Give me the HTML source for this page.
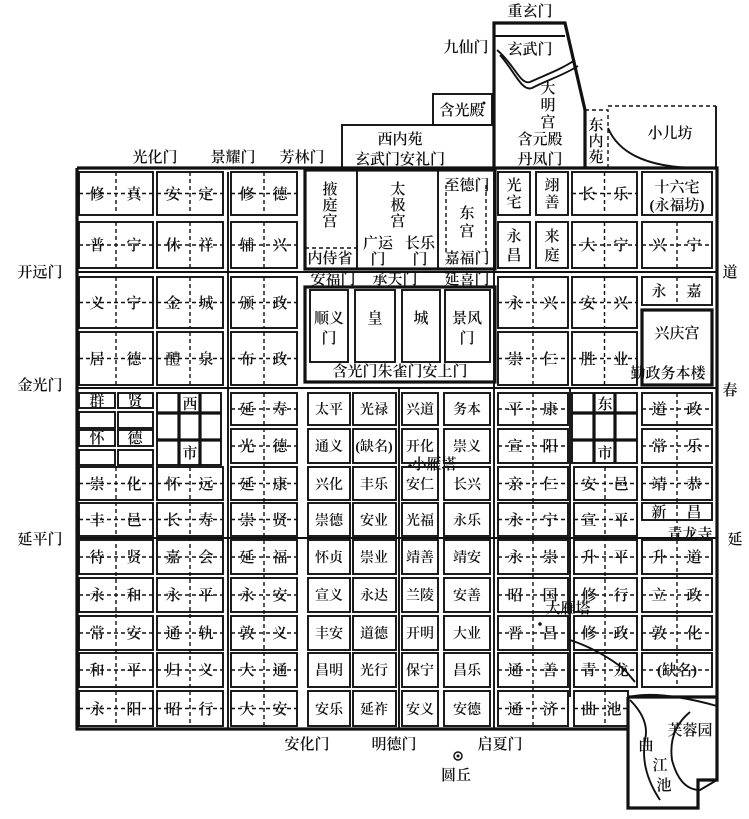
<!DOCTYPE html>
<html><head><meta charset="utf-8"><style>
html,body{margin:0;padding:0;background:#fff;}
svg{display:block;}
text{font-family:"Liberation Serif","Noto Serif CJK SC",serif;fill:#111;font-size:15px;font-weight:600;text-anchor:middle;}
.w{fill:none;stroke:#111;stroke-width:1.9;}
.t{fill:none;stroke:#111;stroke-width:3.2;}
.d{fill:none;stroke:#111;stroke-width:1.4;stroke-dasharray:4 3;}
.s text,text.s{font-size:14px;}
</style></head><body>
<svg width="749" height="819" viewBox="0 0 749 819" xmlns="http://www.w3.org/2000/svg">
<path class="t" d="M77 168H717V697M77 168V729H628M628 697V808H698V780H717V697H628"/>
<path class="w" d="M228 172V729M399 388V729M494 172V729M570 388V697M77 272H717M77 388H717M77 538H717"/>
<path class="t" d="M494 168V23H565L585 110V168"/>
<path class="w" d="M494 36H565"/>
<path class="w" d="M497 50C515 65 520 85 530 82C545 75 560 70 575 60M500 55C515 72 522 92 532 88C547 80 562 76 578 66"/>
<rect class="w" x="342" y="125" width="152" height="43"/>
<rect class="w" x="433" y="94" width="59" height="31"/>
<path class="d" d="M585 110H608V168M585 110V168"/>
<path class="d" d="M608 106H716"/>
<path class="w" d="M716 106V168M608 128Q625 168 700 168"/>
<rect class="t" x="305" y="170" width="190" height="99"/>
<path class="w" d="M357 170V269M438 170V269"/>
<path class="d" d="M305 248H357M446 185V255M486 185V255"/>
<rect class="t" x="305" y="287" width="190" height="95"/>
<rect class="w" x="310" y="290" width="38" height="72"/>
<rect class="w" x="355" y="290" width="40" height="72"/>
<rect class="w" x="402" y="290" width="38" height="72"/>
<rect class="w" x="445" y="290" width="45" height="72"/>
<g class="w"><rect x="79" y="393" width="36" height="15"/><rect x="118" y="393" width="35" height="15"/><rect x="79" y="412" width="36" height="16"/><rect x="118" y="412" width="35" height="16"/><rect x="79" y="430" width="36" height="16"/><rect x="118" y="430" width="35" height="16"/><rect x="79" y="450" width="36" height="15"/><rect x="118" y="450" width="35" height="15"/></g>
<rect class="w" x="157" y="393" width="64" height="72"/>
<path class="t" d="M179 393V465M200 393V465M157 413H221M157 440H221"/>
<rect class="w" x="572" y="393" width="65" height="70"/>
<path class="t" d="M594 393V463M615 393V463M572 413H637M572 440H637"/>
<g class="w">
<rect x="79" y="172" width="74" height="43"/><rect x="157" y="172" width="66" height="43"/><rect x="231" y="172" width="66" height="43"/>
<rect x="79" y="222" width="74" height="46"/><rect x="157" y="222" width="66" height="46"/><rect x="231" y="222" width="66" height="46"/>
<rect x="79" y="277" width="74" height="51"/><rect x="157" y="277" width="66" height="51"/><rect x="231" y="277" width="66" height="51"/>
<rect x="79" y="332" width="74" height="53"/><rect x="157" y="332" width="66" height="53"/><rect x="231" y="332" width="66" height="53"/>
<rect x="498" y="172" width="32" height="43"/><rect x="536" y="172" width="32" height="43"/><rect x="572" y="172" width="65" height="43"/><rect x="642" y="172" width="70" height="43"/>
<rect x="498" y="222" width="32" height="46"/><rect x="536" y="222" width="32" height="46"/><rect x="572" y="222" width="65" height="46"/><rect x="642" y="222" width="70" height="46"/>
<rect x="498" y="277" width="70" height="51"/><rect x="572" y="277" width="65" height="51"/><rect x="642" y="277" width="70" height="28"/>
<rect x="498" y="332" width="70" height="53"/><rect x="572" y="332" width="65" height="53"/>
</g>
<rect class="t" x="642" y="310" width="70" height="75"/>
<path class="d" d="M116 172V215M79 193.5H153M190 172V215M157 193.5H223M264 172V215M231 193.5H297
M116 222V268M79 245H153M190 222V268M157 245H223M264 222V268M231 245H297
M116 277V328M79 302.5H153M190 277V328M157 302.5H223M264 277V328M231 302.5H297
M116 332V385M79 358.5H153M190 332V385M157 358.5H223M264 332V385M231 358.5H297
M604.5 172V215M572 193.5H637M677 200V215M604.5 222V268M572 245H637M677 222V268M642 245H712
M533 277V328M498 302.5H568M604.5 277V328M572 302.5H637M677 277V305
M533 332V385M498 358.5H568M604.5 332V385M572 358.5H637"/>
<g class="w">
<rect x="231" y="393" width="66" height="32"/><rect x="231" y="429" width="66" height="34"/><rect x="231" y="467" width="66" height="33"/><rect x="231" y="503" width="66" height="33"/><rect x="231" y="540" width="66" height="34"/><rect x="231" y="578" width="66" height="34"/><rect x="231" y="616" width="66" height="34"/><rect x="231" y="653" width="66" height="34"/><rect x="231" y="691" width="66" height="35"/>
<rect x="79" y="467" width="74" height="33"/><rect x="79" y="503" width="74" height="33"/><rect x="79" y="540" width="74" height="34"/><rect x="79" y="578" width="74" height="34"/><rect x="79" y="616" width="74" height="34"/><rect x="79" y="653" width="74" height="34"/><rect x="79" y="691" width="74" height="35"/>
<rect x="157" y="467" width="66" height="33"/><rect x="157" y="503" width="66" height="33"/><rect x="157" y="540" width="66" height="34"/><rect x="157" y="578" width="66" height="34"/><rect x="157" y="616" width="66" height="34"/><rect x="157" y="653" width="66" height="34"/><rect x="157" y="691" width="66" height="35"/>
<rect x="308" y="393" width="42" height="32"/><rect x="308" y="429" width="42" height="34"/><rect x="308" y="467" width="42" height="33"/><rect x="308" y="503" width="42" height="33"/><rect x="308" y="540" width="42" height="34"/><rect x="308" y="578" width="42" height="34"/><rect x="308" y="616" width="42" height="34"/><rect x="308" y="653" width="42" height="34"/><rect x="308" y="691" width="42" height="35"/>
<rect x="353" y="393" width="43" height="32"/><rect x="353" y="429" width="43" height="34"/><rect x="353" y="467" width="43" height="33"/><rect x="353" y="503" width="43" height="33"/><rect x="353" y="540" width="43" height="34"/><rect x="353" y="578" width="43" height="34"/><rect x="353" y="616" width="43" height="34"/><rect x="353" y="653" width="43" height="34"/><rect x="353" y="691" width="43" height="35"/>
<rect x="402" y="393" width="36" height="32"/><rect x="402" y="429" width="36" height="34"/><rect x="402" y="467" width="36" height="33"/><rect x="402" y="503" width="36" height="33"/><rect x="402" y="540" width="36" height="34"/><rect x="402" y="578" width="36" height="34"/><rect x="402" y="616" width="36" height="34"/><rect x="402" y="653" width="36" height="34"/><rect x="402" y="691" width="36" height="35"/>
<rect x="444" y="393" width="46" height="32"/><rect x="444" y="429" width="46" height="34"/><rect x="444" y="467" width="46" height="33"/><rect x="444" y="503" width="46" height="33"/><rect x="444" y="540" width="46" height="34"/><rect x="444" y="578" width="46" height="34"/><rect x="444" y="616" width="46" height="34"/><rect x="444" y="653" width="46" height="34"/><rect x="444" y="691" width="46" height="35"/>
<rect x="498" y="393" width="70" height="32"/><rect x="498" y="429" width="70" height="34"/><rect x="498" y="467" width="70" height="33"/><rect x="498" y="503" width="70" height="33"/><rect x="498" y="540" width="70" height="34"/><rect x="498" y="578" width="70" height="34"/><rect x="498" y="616" width="70" height="34"/><rect x="498" y="653" width="70" height="34"/><rect x="498" y="691" width="70" height="35"/>
<rect x="574" y="467" width="63" height="33"/><rect x="574" y="503" width="63" height="33"/><rect x="574" y="540" width="63" height="34"/><rect x="574" y="578" width="63" height="34"/><rect x="574" y="616" width="63" height="34"/><rect x="574" y="653" width="63" height="34"/><rect x="574" y="691" width="54" height="35"/>
<rect x="642" y="393" width="70" height="32"/><rect x="642" y="429" width="70" height="34"/><rect x="642" y="467" width="70" height="33"/><rect x="642" y="503" width="70" height="17"/><rect x="642" y="540" width="70" height="34"/><rect x="642" y="578" width="70" height="34"/><rect x="642" y="616" width="70" height="34"/><rect x="642" y="653" width="70" height="34"/>
</g>
<path class="d" d="M116 467V726M190 467V726M264 393V726M533 393V726M605 467V726M677 393V687
M79 483.5H153M157 483.5H223M231 483.5H297M79 519.5H153M157 519.5H223M231 519.5H297M79 557H153M157 557H223M231 557H297M79 595H153M157 595H223M231 595H297M79 633H153M157 633H223M231 633H297M79 670H153M157 670H223M231 670H297M79 708.5H153M157 708.5H223M231 708.5H297M231 409H297M231 446H297
M498 409H568M498 446H568M498 483.5H568M498 519.5H568M498 557H568M498 595H568M498 633H568M498 670H568M498 708.5H568
M574 483.5H637M574 519.5H637M574 557H637M574 595H637M574 633H637M574 670H637M574 708.5H628
M642 409H712M642 446H712M642 483.5H712M642 557H712M642 595H712M642 633H712M642 670H712"/>
<circle cx="458" cy="756" r="4" fill="none" stroke="#111" stroke-width="1.5"/><circle cx="458" cy="756" r="1.5" fill="#111"/>
<circle cx="410" cy="466" r="1.8" fill="#111"/><circle cx="540" cy="624" r="1.8" fill="#111"/><circle cx="484" cy="103" r="1.5" fill="#111"/>
<path class="w" d="M570 640Q600 650 625 670L635 682M628 697Q660 690 717 706M630 700Q650 720 645 740Q640 770 660 800M690 712Q668 730 672 760Q680 790 700 790L717 780"/>
<text x="530" y="16">重玄门</text>
<text x="466" y="52">九仙门</text><text x="530" y="54">玄武门</text>
<text x="548" y="93">大</text><text x="548" y="110">明</text><text x="548" y="127">宫</text>
<text x="462" y="115">含光殿</text>
<text x="400" y="144">西内苑</text><text x="400" y="164">玄武门安礼门</text>
<text x="540" y="144">含元殿</text><text x="540" y="164">丹凤门</text>
<text x="596" y="130">东</text><text x="596" y="146">内</text><text x="596" y="162">苑</text>
<text x="670" y="138">小儿坊</text>
<text x="155" y="162">光化门</text><text x="233" y="162">景耀门</text><text x="302" y="162">芳林门</text>
<text x="40" y="277">开远门</text><text x="40" y="390">金光门</text><text x="40" y="544">延平门</text>
<text x="307" y="749">安化门</text><text x="394" y="749">明德门</text><text x="500" y="749">启夏门</text><text x="456" y="780">圆丘</text>
<text x="730" y="277">道</text><text x="730" y="395">春</text><text x="735" y="544">延</text>
<text x="330" y="194">掖</text><text x="330" y="210">庭</text><text x="330" y="226">宫</text>
<text x="330" y="263">内侍省</text>
<text x="398" y="194">太</text><text x="398" y="210">极</text><text x="398" y="226">宫</text>
<text x="378" y="248">广运</text><text x="378" y="264">门</text><text x="420" y="248">长乐</text><text x="420" y="264">门</text>
<text x="467" y="190">至德门</text><text x="467" y="218">东</text><text x="467" y="236">宫</text><text x="467" y="263">嘉福门</text>
<text x="333" y="284">安福门</text><text x="395" y="284">承天门</text><text x="467" y="284">延喜门</text>
<text x="329" y="323">顺义</text><text x="329" y="343">门</text><text x="375" y="323">皇</text><text x="421" y="323">城</text>
<text x="467" y="323">景风</text><text x="467" y="343">门</text>
<text x="400" y="376">含光门朱雀门安上门</text>
<text x="97" y="199">修</text><text x="134" y="199">真</text><text x="173" y="199">安</text><text x="206" y="199">定</text><text x="247" y="199">修</text><text x="280" y="199">德</text>
<text x="97" y="250">普</text><text x="134" y="250">宁</text><text x="173" y="250">休</text><text x="206" y="250">祥</text><text x="247" y="250">辅</text><text x="280" y="250">兴</text>
<text x="97" y="308">义</text><text x="134" y="308">宁</text><text x="173" y="308">金</text><text x="206" y="308">城</text><text x="247" y="308">颁</text><text x="280" y="308">政</text>
<text x="97" y="364">居</text><text x="134" y="364">德</text><text x="173" y="364">醴</text><text x="206" y="364">泉</text><text x="247" y="364">布</text><text x="280" y="364">政</text>
<text x="514" y="190">光</text><text x="514" y="207">宅</text><text x="552" y="190">翊</text><text x="552" y="207">善</text>
<text x="588" y="199">长</text><text x="621" y="199">乐</text><text x="677" y="192">十六宅</text><text x="677" y="210">(永福坊)</text>
<text x="514" y="241">永</text><text x="514" y="260">昌</text><text x="552" y="241">来</text><text x="552" y="260">庭</text>
<text x="588" y="250">大</text><text x="621" y="250">宁</text><text x="659" y="250">兴</text><text x="694" y="250">宁</text>
<text x="515" y="308">永</text><text x="550" y="308">兴</text><text x="588" y="308">安</text><text x="621" y="308">兴</text><text x="659" y="296">永</text><text x="694" y="296">嘉</text>
<text x="515" y="364">崇</text><text x="550" y="364">仁</text><text x="588" y="364">胜</text><text x="621" y="364">业</text>
<text x="677" y="338">兴庆宫</text><text x="668" y="378">勤政务本楼</text>
<text x="97" y="406">群</text><text x="135" y="406">贤</text><text x="97" y="443">怀</text><text x="135" y="443">德</text>
<text x="190" y="409">西</text><text x="190" y="458">市</text>
<text x="605" y="409">东</text><text x="605" y="458">市</text>
<text x="97" y="489">崇</text><text x="134" y="489">化</text><text x="173" y="489">怀</text><text x="206" y="489">远</text><text x="247" y="414">延</text><text x="280" y="414">寿</text>
<text x="247" y="451">光</text><text x="280" y="451">德</text><text x="247" y="489">延</text><text x="280" y="489">康</text>
<text x="97" y="525">丰</text><text x="134" y="525">邑</text><text x="173" y="525">长</text><text x="206" y="525">寿</text><text x="247" y="525">崇</text><text x="280" y="525">贤</text>
<text x="97" y="562">待</text><text x="134" y="562">贤</text><text x="173" y="562">嘉</text><text x="206" y="562">会</text><text x="247" y="562">延</text><text x="280" y="562">福</text>
<text x="97" y="600">永</text><text x="134" y="600">和</text><text x="173" y="600">永</text><text x="206" y="600">平</text><text x="247" y="600">永</text><text x="280" y="600">安</text>
<text x="97" y="638">常</text><text x="134" y="638">安</text><text x="173" y="638">通</text><text x="206" y="638">轨</text><text x="247" y="638">敦</text><text x="280" y="638">义</text>
<text x="97" y="675">和</text><text x="134" y="675">平</text><text x="173" y="675">归</text><text x="206" y="675">义</text><text x="247" y="675">大</text><text x="280" y="675">通</text>
<text x="97" y="714">永</text><text x="134" y="714">阳</text><text x="173" y="714">昭</text><text x="206" y="714">行</text><text x="247" y="714">大</text><text x="280" y="714">安</text>
<g class="s">
<text x="329" y="414">太平</text><text x="374" y="414">光禄</text><text x="420" y="414">兴道</text><text x="467" y="414">务本</text>
<text x="329" y="451">通义</text><text x="374" y="451">(缺名)</text><text x="420" y="451">开化</text><text x="467" y="451">崇义</text>
<text x="329" y="489">兴化</text><text x="374" y="489">丰乐</text><text x="420" y="489">安仁</text><text x="467" y="489">长兴</text>
<text x="329" y="525">崇德</text><text x="374" y="525">安业</text><text x="420" y="525">光福</text><text x="467" y="525">永乐</text>
<text x="329" y="562">怀贞</text><text x="374" y="562">崇业</text><text x="420" y="562">靖善</text><text x="467" y="562">靖安</text>
<text x="329" y="600">宣义</text><text x="374" y="600">永达</text><text x="420" y="600">兰陵</text><text x="467" y="600">安善</text>
<text x="329" y="638">丰安</text><text x="374" y="638">道德</text><text x="420" y="638">开明</text><text x="467" y="638">大业</text>
<text x="329" y="675">昌明</text><text x="374" y="675">光行</text><text x="420" y="675">保宁</text><text x="467" y="675">昌乐</text>
<text x="329" y="714">安乐</text><text x="374" y="714">延祚</text><text x="420" y="714">安义</text><text x="467" y="714">安德</text>
</g>
<text x="434" y="469">小雁塔</text><text x="568" y="613">大雁塔</text>
<text x="515" y="414">平</text><text x="550" y="414">康</text><text x="659" y="414">道</text><text x="694" y="414">政</text>
<text x="515" y="451">宣</text><text x="550" y="451">阳</text><text x="659" y="451">常</text><text x="694" y="451">乐</text>
<text x="515" y="489">亲</text><text x="550" y="489">仁</text><text x="589" y="489">安</text><text x="621" y="489">邑</text><text x="659" y="489">靖</text><text x="694" y="489">恭</text>
<text x="515" y="525">永</text><text x="550" y="525">宁</text><text x="589" y="525">宣</text><text x="621" y="525">平</text><text x="659" y="517">新</text><text x="694" y="517">昌</text>
<text x="690" y="539">青龙寺</text>
<text x="515" y="562">永</text><text x="550" y="562">崇</text><text x="589" y="562">升</text><text x="621" y="562">平</text><text x="659" y="562">升</text><text x="694" y="562">道</text>
<text x="515" y="600">昭</text><text x="550" y="600">国</text><text x="589" y="600">修</text><text x="621" y="600">行</text><text x="659" y="600">立</text><text x="694" y="600">政</text>
<text x="515" y="638">晋</text><text x="550" y="638">昌</text><text x="589" y="638">修</text><text x="621" y="638">政</text><text x="659" y="638">敦</text><text x="694" y="638">化</text>
<text x="515" y="675">通</text><text x="550" y="675">善</text><text x="589" y="675">青</text><text x="621" y="675">龙</text><text x="677" y="675">(缺名)</text>
<text x="515" y="714">通</text><text x="550" y="714">济</text><text x="589" y="714">曲</text><text x="614" y="714">池</text>
<text x="646" y="750">曲</text><text x="660" y="770">江</text><text x="664" y="790">池</text><text x="690" y="735">芙蓉园</text>
</svg>
</body></html>
